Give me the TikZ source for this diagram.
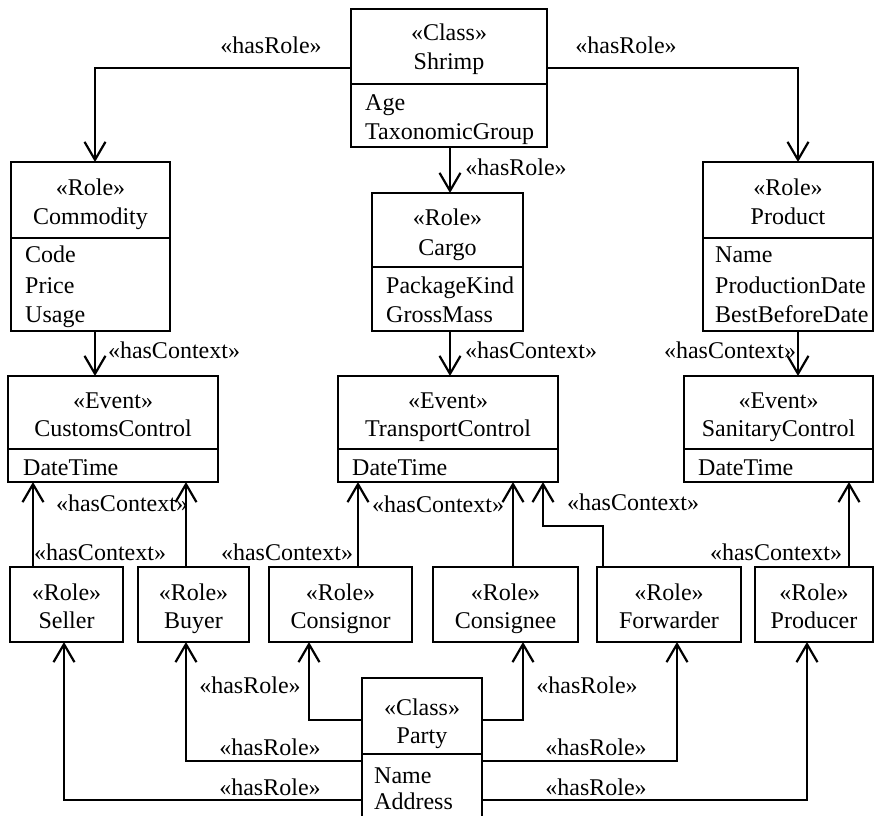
\documentclass[tikz,border=0pt]{standalone}
\usepackage{fontspec}
\setmainfont{Liberation Serif}
\usetikzlibrary{arrows.meta}
\begin{document}
\begin{tikzpicture}[x=1pt,y=-1pt,
  box/.style={draw, line width=2.2pt, inner sep=0pt, outer sep=0pt, anchor=north west},
  txt/.style={inner sep=0pt, anchor=base, font=\fontsize{24}{28}\selectfont},
  attr/.style={txt, anchor=base west},
  lbl/.style={txt},
  conn/.style={line width=2.2pt, -{Straight Barb[length=18pt,width=21pt]}},
  divline/.style={line width=2.2pt}]
\useasboundingbox (0,0) rectangle (875,816);

% ---- Shrimp
\node[box, minimum width=196pt, minimum height=138pt] (shrimp) at (351,9) {};
\draw[divline] (shrimp.west |- 0,84) -- (shrimp.east |- 0,84);
\node[txt] (shrimpS) at (449,41) {«Class»};
\node[txt] (shrimpN) at (449,70) {Shrimp};
\node[attr] (shrimpA1) at (365,110) {Age};
\node[attr] (shrimpA2) at (365,139) {TaxonomicGroup};

% ---- Commodity
\node[box, minimum width=159pt, minimum height=169pt] (commodity) at (11,162) {};
\draw[divline] (commodity.west |- 0,238) -- (commodity.east |- 0,238);
\node[txt] (commS) at (90.5,195) {«Role»};
\node[txt] (commN) at (90.5,224) {Commodity};
\node[attr] (commA1) at (25,262) {Code};
\node[attr] (commA2) at (25,293) {Price};
\node[attr] (commA3) at (25,322) {Usage};

% ---- Cargo
\node[box, minimum width=151pt, minimum height=138pt] (cargo) at (372,193) {};
\draw[divline] (cargo.west |- 0,267) -- (cargo.east |- 0,267);
\node[txt] (cargoS) at (447.5,225) {«Role»};
\node[txt] (cargoN) at (447.5,255) {Cargo};
\node[attr] (cargoA1) at (386,293) {PackageKind};
\node[attr] (cargoA2) at (386,322) {GrossMass};

% ---- Product
\node[box, minimum width=170pt, minimum height=169pt] (product) at (703,162) {};
\draw[divline] (product.west |- 0,238) -- (product.east |- 0,238);
\node[txt] (prodS) at (788,195) {«Role»};
\node[txt] (prodN) at (788,224) {Product};
\node[attr] (prodA1) at (715,262) {Name};
\node[attr] (prodA2) at (715,293) {ProductionDate};
\node[attr] (prodA3) at (715,322) {BestBeforeDate};

% ---- Events
\node[box, minimum width=210pt, minimum height=106pt] (customs) at (8,376) {};
\draw[divline] (customs.west |- 0,449) -- (customs.east |- 0,449);
\node[txt] (custS) at (113,408) {«Event»};
\node[txt] (custN) at (113,436) {CustomsControl};
\node[attr] (custA1) at (23,475) {DateTime};

\node[box, minimum width=220pt, minimum height=106pt] (transport) at (338,376) {};
\draw[divline] (transport.west |- 0,449) -- (transport.east |- 0,449);
\node[txt] (tranS) at (448,408) {«Event»};
\node[txt] (tranN) at (448,436) {TransportControl};
\node[attr] (tranA1) at (352,475) {DateTime};

\node[box, minimum width=189pt, minimum height=106pt] (sanitary) at (684,376) {};
\draw[divline] (sanitary.west |- 0,449) -- (sanitary.east |- 0,449);
\node[txt] (saniS) at (778.5,408) {«Event»};
\node[txt] (saniN) at (778.5,436) {SanitaryControl};
\node[attr] (saniA1) at (698,475) {DateTime};

% ---- Bottom roles
\node[box, minimum width=113pt, minimum height=75pt] (seller) at (10,567) {};
\node[txt] (sellS) at (66.5,600) {«Role»};
\node[txt] (sellN) at (66.5,628) {Seller};
\node[box, minimum width=111pt, minimum height=75pt] (buyer) at (138,567) {};
\node[txt] (buyS) at (193.5,600) {«Role»};
\node[txt] (buyN) at (193.5,628) {Buyer};
\node[box, minimum width=143pt, minimum height=75pt] (consignor) at (269,567) {};
\node[txt] (cgorS) at (340.5,600) {«Role»};
\node[txt] (cgorN) at (340.5,628) {Consignor};
\node[box, minimum width=145pt, minimum height=75pt] (consignee) at (433,567) {};
\node[txt] (cgeeS) at (505.5,600) {«Role»};
\node[txt] (cgeeN) at (505.5,628) {Consignee};
\node[box, minimum width=144pt, minimum height=75pt] (forwarder) at (597,567) {};
\node[txt] (fwdS) at (669,600) {«Role»};
\node[txt] (fwdN) at (669,628) {Forwarder};
\node[box, minimum width=118pt, minimum height=75pt] (producer) at (755,567) {};
\node[txt] (prdrS) at (814,600) {«Role»};
\node[txt] (prdrN) at (814,628) {Producer};

% ---- Party
\node[box, minimum width=120pt, minimum height=141pt] (party) at (362,678) {};
\draw[divline] (party.west |- 0,754) -- (party.east |- 0,754);
\node[txt] (partyS) at (422,715) {«Class»};
\node[txt] (partyN) at (422,743) {Party};
\node[attr] (partyA1) at (374,783) {Name};
\node[attr] (partyA2) at (374,809) {Address};

% ---- connectors from Shrimp
\draw[conn] (shrimp.west |- 0,68) -| (commodity.north -| 95,0);
\draw[conn] (shrimp.east |- 0,68) -| (product.north -| 798,0);
\draw[conn] (shrimp.south -| 450,0) -- (cargo.north -| 450,0);
\node[lbl] (l1) at (271,53) {«hasRole»};
\node[lbl] (l2) at (626,53) {«hasRole»};
\node[lbl] (l3) at (516,175) {«hasRole»};

% ---- roles to events
\draw[conn] (commodity.south -| 95,0) -- (customs.north -| 95,0);
\draw[conn] (cargo.south -| 450,0) -- (transport.north -| 450,0);
\draw[conn] (product.south -| 798,0) -- (sanitary.north -| 798,0);
\node[lbl] (l4) at (174,358) {«hasContext»};
\node[lbl] (l5) at (531,358) {«hasContext»};
\node[lbl] (l6) at (730,358) {«hasContext»};

\coordinate (fwbend) at (603,526);
\draw[conn] (seller.north -| 33,0) -- (customs.south -| 33,0);
\draw[conn] (buyer.north -| 186,0) -- (customs.south -| 186,0);
\draw[conn] (consignor.north -| 358,0) -- (transport.south -| 358,0);
\draw[conn] (consignee.north -| 513,0) -- (transport.south -| 513,0);
\draw[conn] (forwarder.north -| fwbend) -- (fwbend) -| (transport.south -| 543,0);
\draw[conn] (producer.north -| 849,0) -- (sanitary.south -| 849,0);
\node[lbl] (l7) at (100,560) {«hasContext»};
\node[lbl] (l8) at (122,511) {«hasContext»};
\node[lbl] (l9) at (287,560) {«hasContext»};
\node[lbl] (l10) at (438,512) {«hasContext»};
\node[lbl] (l11) at (633,510) {«hasContext»};
\node[lbl] (l12) at (776,560) {«hasContext»};

% ---- Party to roles
\draw[conn] (party.west |- 0,720) -| (consignor.south -| 309,0);
\draw[conn] (party.east |- 0,720) -| (consignee.south -| 523,0);
\draw[conn] (party.west |- 0,761) -| (buyer.south -| 186,0);
\draw[conn] (party.east |- 0,761) -| (forwarder.south -| 677,0);
\draw[conn] (party.west |- 0,800) -| (seller.south -| 64,0);
\draw[conn] (party.east |- 0,800) -| (producer.south -| 807,0);
\node[lbl] (l13) at (250,693) {«hasRole»};
\node[lbl] (l14) at (587,693) {«hasRole»};
\node[lbl] (l15) at (270,755) {«hasRole»};
\node[lbl] (l16) at (596,755) {«hasRole»};
\node[lbl] (l17) at (270,795) {«hasRole»};
\node[lbl] (l18) at (596,795) {«hasRole»};
\end{tikzpicture}
\end{document}
